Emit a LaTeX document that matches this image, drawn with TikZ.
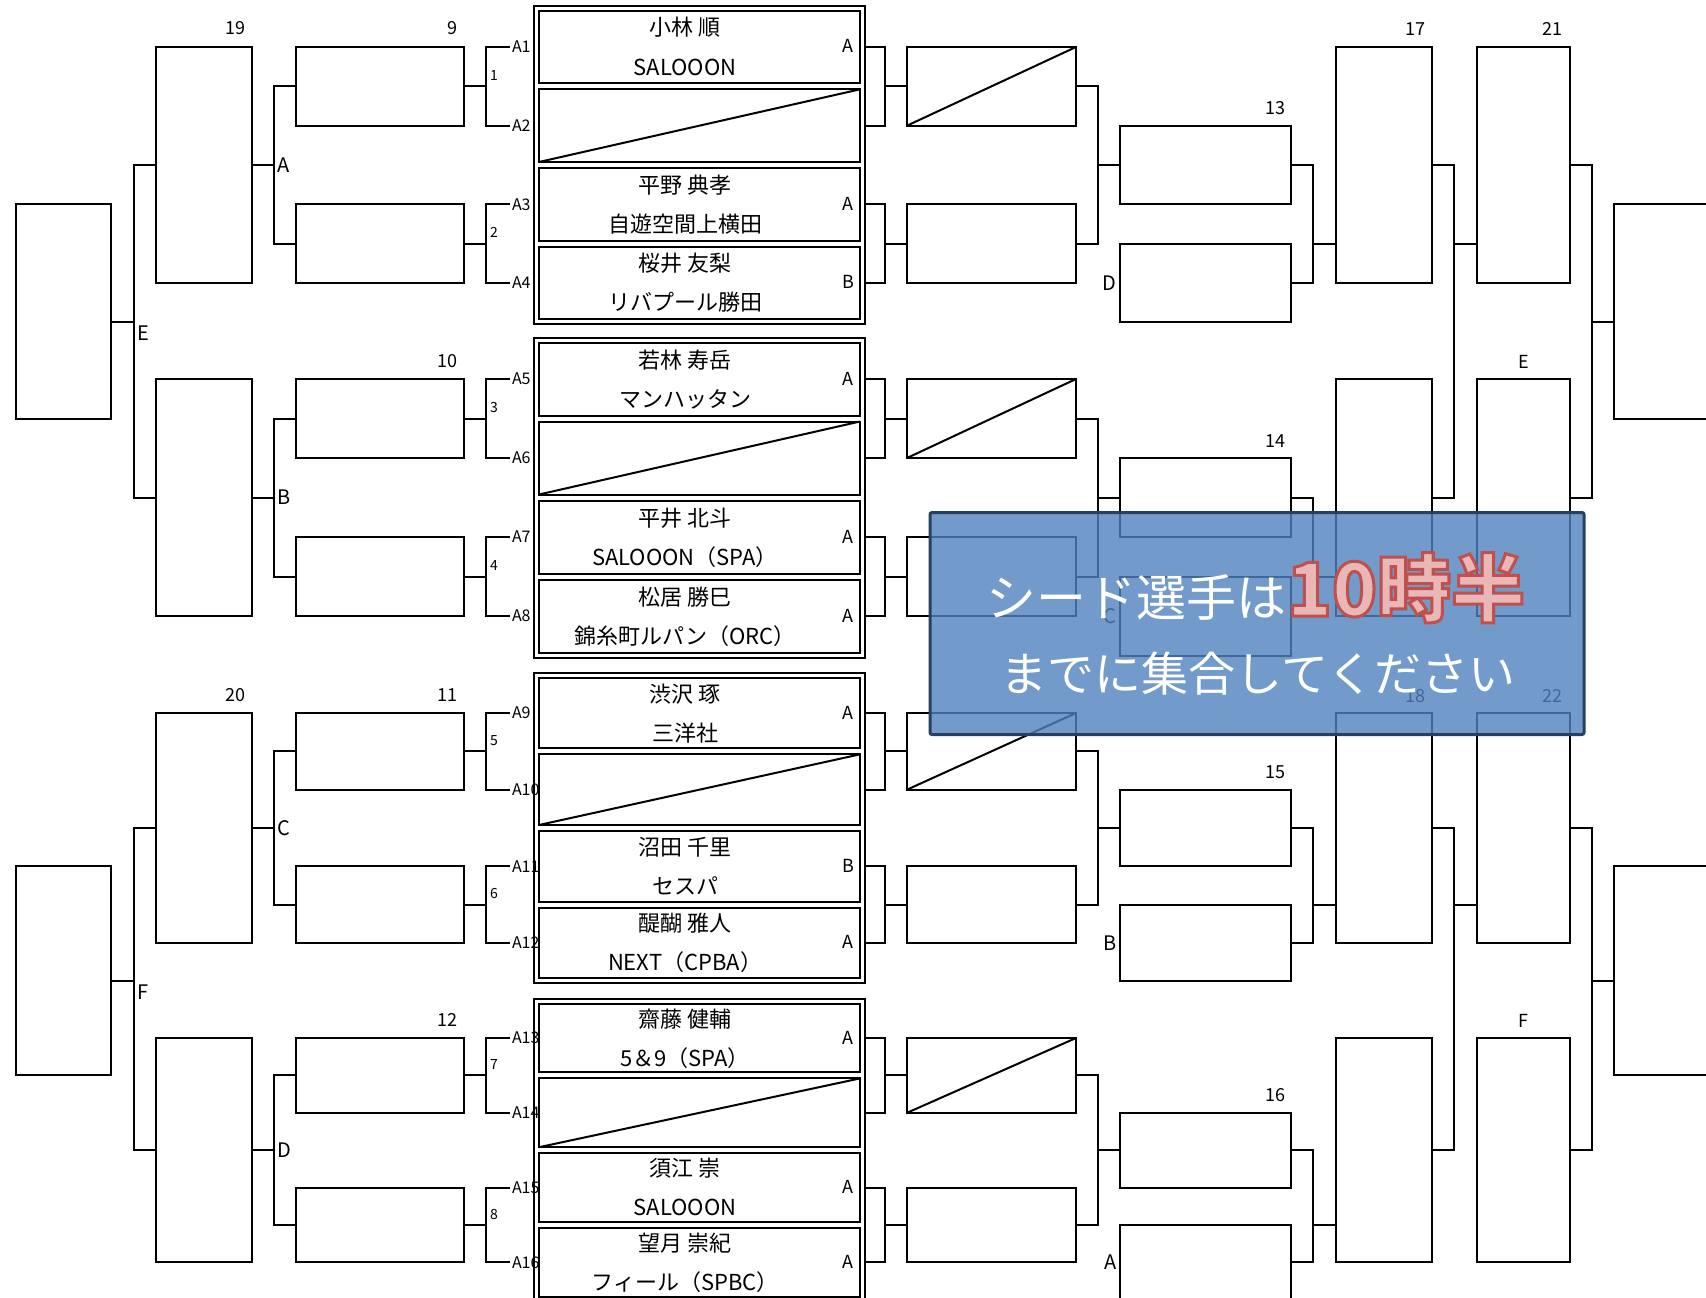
\documentclass[tikz,border=0pt]{standalone}
\usepackage{fontspec}
\setmainfont{Noto Sans CJK JP}
\usetikzlibrary{positioning}
\definecolor{notefill}{RGB}{79,129,189}
\definecolor{noteline}{RGB}{38,64,96}
\definecolor{hourfill}{RGB}{232,183,182}
\newcommand\cellbox[6][]{%
  \node[cell,#1,minimum width={(#5)-(#3)},minimum height={(#6)-(#4)}] (#2) at ({((#3)+(#5))/2},{((#4)+(#6))/2}) {};}
\newcommand\outlined[1]{\special{pdf:literal direct 2 Tr 3 w 0.753 0.314 0.302 RG}#1\special{pdf:literal direct 0 Tr}}

\begin{document}
\begin{tikzpicture}[x=1pt,y=-1pt,line width=2pt,
  cell/.style={draw,rectangle,inner sep=0pt,outer sep=0pt},
  num/.style={font=\fontsize{18}{18}\selectfont,inner sep=0pt,anchor=base east},
  tag/.style={font=\fontsize{20}{20}\selectfont,inner sep=2.5pt},
  seat/.style={font=\fontsize{16}{16}\selectfont,inner sep=1pt,anchor=west},
  tie/.style={font=\fontsize{14}{14}\selectfont,inner sep=0pt,anchor=base west,xshift=3pt,yshift=6pt},
  player/.style={font=\fontsize{22}{22}\selectfont,inner sep=0pt,anchor=base},
  rank/.style={font=\fontsize{18}{18}\selectfont,inner sep=0pt,anchor=base}]
\useasboundingbox (0,0) rectangle (1706,1298);
\clip (0,0) rectangle (1706,1298);
\foreach \g/\yo/\s/\qn/\rn/\lft/\rgt in {1/47/39.33/9/13/A/D,2/379/39.5/10/14/B/C,3/713/38.33/11/15/C/B,4/1038/37.4/12/16/D/A}{
  \foreach \j in {0,...,7}{\coordinate (row\g-\j) at (0,{\yo+\j*\s});}
  \pgfmathtruncatemacro\ta{2*\g-1}
  \pgfmathtruncatemacro\tb{2*\g}
  \cellbox{sf\g}{156}{\yo}{252}{\yo+6*\s}
  \cellbox{qa\g}{296}{\yo}{464}{\yo+2*\s}
  \cellbox{qb\g}{296}{\yo+4*\s}{464}{\yo+6*\s}
  \node[num] (qn\g) at ([xshift=-6pt,yshift=12pt]qa\g.north east) {\qn};
  \draw (qa\g.west) -| ([xshift=22pt]sf\g.east) |- (qb\g.west);
  \draw (sf\g.east) -- ++(22,0) node[tag,anchor=west] (lk\g) {\lft};
  \cellbox{fr\g}{534}{\yo-\s-2}{865}{\yo+7*\s+2}
  \foreach \k in {0,...,3}{
    \pgfmathtruncatemacro\seat{4*\g-3+\k}
    \cellbox{s\g-\k}{539}{\yo+(2*\k-1)*\s+3}{860}{\yo+(2*\k+1)*\s-3}
    \node[seat] (st\g-\k) at (510,{\yo+2*\k*\s}) {A\seat};
  }
  \draw (s\g-1.south west) -- (s\g-1.north east);
  \draw (st\g-0.west) -| ([xshift=22pt]qa\g.east) |- (st\g-1.west);
  \draw (qa\g.east) -- ++(22,0) node[tie] (tn\g-1) {\ta};
  \draw (st\g-2.west) -| ([xshift=22pt]qb\g.east) |- (st\g-3.west);
  \draw (qb\g.east) -- ++(22,0) node[tie] (tn\g-2) {\tb};
  \cellbox{ra\g}{907}{\yo}{1076}{\yo+2*\s}
  \cellbox{rb\g}{907}{\yo+4*\s}{1076}{\yo+6*\s}
  \draw (ra\g.south west) -- (ra\g.north east);
  \draw (fr\g.east |- s\g-0.center) -| ([xshift=-22pt]ra\g.west) |- (fr\g.east |- s\g-1.center);
  \draw (ra\g.west) -- ++(-22,0);
  \draw (fr\g.east |- s\g-2.center) -| ([xshift=-22pt]rb\g.west) |- (fr\g.east |- s\g-3.center);
  \draw (rb\g.west) -- ++(-22,0);
  \cellbox{rq\g}{1120}{\yo+2*\s}{1291}{\yo+4*\s}
  \cellbox{rl\g}{1120}{\yo+5*\s}{1291}{\yo+7*\s}
  \node[num] (rn\g) at ([xshift=-5pt,yshift=11pt]rq\g.north east) {\rn};
  \node[tag,anchor=east] (rk\g) at (rl\g.west) {\rgt};
  \draw (ra\g.east) -| ([xshift=-22pt]rq\g.west) |- (rb\g.east);
  \draw (rq\g.west) -- ++(-22,0);
  \cellbox{rs\g}{1336}{\yo}{1432}{\yo+6*\s}
  \cellbox{rt\g}{1477}{\yo}{1570}{\yo+6*\s}
  \draw (rq\g.east) -| ([xshift=22pt]rl\g.east) -- (rl\g.east);
  \draw ([xshift=22pt]rl\g.east |- row\g-5) -- (rs\g.west |- row\g-5);
}
\foreach \hf/\up/\dn/\ya/\yb/\ltr/\sfn/\rsn/\rtn/\rtl in {1/1/2/204.3/418.5/E/19/17/21/E,2/3/4/866.3/1075.4/F/20/18/22/F}{
  \cellbox{lf\hf}{16}{\ya}{111}{\yb}
  \cellbox{rf\hf}{1614}{\ya}{1720}{\yb}
  \node[num] (sn\hf) at ([xshift=-6pt,yshift=12pt]sf\up.north east) {\sfn};
  \node[num] (sm\hf) at ([xshift=-6pt,yshift=11pt]rs\up.north east) {\rsn};
  \node[num] (tt\hf) at ([xshift=-7pt,yshift=11pt]rt\up.north east) {\rtn};
  \node[num,anchor=base] (tl\hf) at ([yshift=11pt]rt\dn.north) {\rtl};
  \draw (sf\up.west) -| ([xshift=-22pt]sf\up.west |- row\up-7) coordinate (je\hf) |- (sf\dn.west);
  \draw (lf\hf.east |- je\hf) -- (je\hf) node[tag,anchor=north west] (lt\hf) {\ltr};
  \draw (rs\up.east) -| ([xshift=22pt]rs\dn.east) -- (rs\dn.east);
  \draw ([xshift=22pt]rs\up.east |- row\up-5) -- (rt\up.west |- row\up-5);
  \draw (rt\up.east) -| ([xshift=22pt]rt\dn.east) -- (rt\dn.east);
  \draw ([xshift=22pt]rt\up.east |- row\up-7) -- (rf\hf.west |- row\up-7);
}
\foreach \g/\k/\nm/\tm/\rk in {
  1/0/小林 順/SALOOON/A,
  1/2/平野 典孝/自遊空間上横田/A,
  1/3/桜井 友梨/リバプール勝田/B,
  2/0/若林 寿岳/マンハッタン/A,
  2/2/平井 北斗/SALOOON（SPA）/A,
  2/3/松居 勝巳/錦糸町ルパン（ORC）/A,
  3/0/渋沢 琢/三洋社/A,
  3/2/沼田 千里/セスパ/B,
  3/3/醍醐 雅人/NEXT（CPBA）/A,
  4/0/齋藤 健輔/5＆9（SPA）/A,
  4/2/須江 崇/SALOOON/A,
  4/3/望月 崇紀/フィール（SPBC）/A}{
  \node[player] (nm\g-\k) at ([xshift=-14.5pt,yshift=11pt]s\g-\k.center) {\nm};
  \node[player] (tm\g-\k) at ([xshift=-14.5pt,yshift=-28pt]s\g-\k.center) {\tm};
  \node[rank] (rk\g-\k) at ([xshift=-12pt,yshift=-6pt]s\g-\k.east) {\rk};
}
\node[draw=noteline,line width=3pt,fill=notefill,fill opacity=.8,rounded corners=2pt,inner sep=0pt,minimum width=654,minimum height=222] (note) at (1257,623.5) {};
\node[anchor=base,inner sep=0pt,text=white,font=\fontsize{50}{50}\selectfont] (seedline) at (1256,616) {シード選手は{\color{hourfill}\fontsize{74}{74}\selectfont\bfseries\outlined{10時半}}};
\node[anchor=base,inner sep=0pt,text=white,font=\fontsize{47}{47}\selectfont] (gatherline) at (1258,691) {までに集合してください};
\end{tikzpicture}
\end{document}
